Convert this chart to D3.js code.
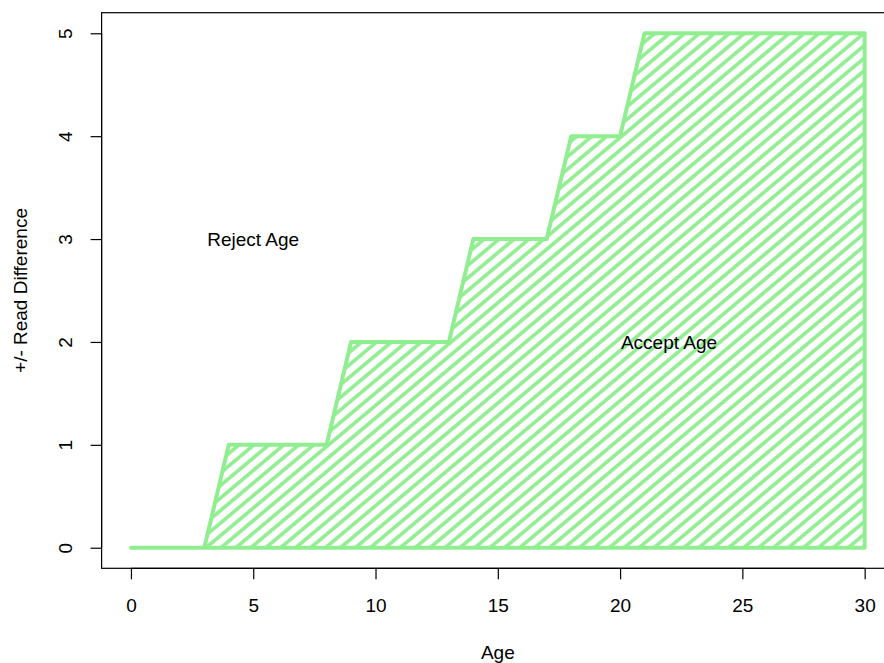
<!DOCTYPE html>
<html>
<head>
<meta charset="utf-8">
<script src="https://cdn.jsdelivr.net/npm/d3@7"></script>
<style>
  html, body { margin: 0; padding: 0; background: #fff; }
  text { font-family: "Liberation Sans", Arial, sans-serif; fill: #000; }
</style>
</head>
<body>
<svg id="chart" width="884" height="663"></svg>
<script>
// Data: acceptance boundary polygon (Age vs +/- read difference)
const ages        = [0, 3, 4, 8, 9, 13, 14, 17, 18, 20, 21, 30, 30];
const differences = [0, 0, 1, 1, 2, 2,  3,  3,  4,  4,  5,  5,  0];
const xTicks = [0, 5, 10, 15, 20, 25, 30];
const yTicks = [0, 1, 2, 3, 4, 5];
const labels = [
  { text: "Reject Age", age: 5,  diff: 3 },
  { text: "Accept Age", age: 22, diff: 2 }
];
const xTitle = "Age";
const yTitle = "+/- Read Difference";

const svg = d3.select("#chart");
const pLeft = 101.6, pRight = 894, pTop = 12.7, pBottom = 568.3;

const x = d3.scaleLinear().domain([-1.2, 31.2]).range([pLeft, pRight]);
const y = d3.scaleLinear().domain([-0.2, 5.2]).range([pBottom, pTop]);

const green = "#90EE90";

// hatch pattern
const defs = svg.append("defs");
const pat = defs.append("pattern")
  .attr("id", "hatch")
  .attr("patternUnits", "userSpaceOnUse")
  .attr("width", 9.6).attr("height", 40)
  .attr("patternTransform", "rotate(50)");
pat.append("line")
  .attr("x1", 4.8).attr("x2", 4.8).attr("y1", -5).attr("y2", 45)
  .attr("stroke", green).attr("stroke-width", 3.6);

defs.append("clipPath").attr("id", "plotclip")
  .append("rect").attr("x", pLeft).attr("y", pTop)
  .attr("width", pRight - pLeft).attr("height", pBottom - pTop);

const pts = ages.map((a, i) => [x(a), y(differences[i])]);
const line = d3.line();

const g = svg.append("g").attr("clip-path", "url(#plotclip)");
g.append("path")
  .attr("d", line(pts) + "Z")
  .attr("fill", "url(#hatch)")
  .attr("stroke", "none");
g.append("path")
  .attr("d", line(pts) + "Z")
  .attr("fill", "none")
  .attr("stroke", green)
  .attr("stroke-width", 4)
  .attr("stroke-linejoin", "round")
  .attr("stroke-linecap", "round");

// box
svg.append("rect")
  .attr("x", pLeft).attr("y", pTop)
  .attr("width", pRight - pLeft).attr("height", pBottom - pTop)
  .attr("fill", "none").attr("stroke", "#000").attr("stroke-width", 1.2);

// x axis
const xAxis = svg.append("g").attr("transform", `translate(0,${pBottom})`)
  .call(d3.axisBottom(x).tickValues(xTicks).tickSize(11).tickPadding(0).tickFormat(d3.format("d")));
xAxis.select(".domain").attr("d", `M${x(xTicks[0])},0H${x(xTicks[xTicks.length-1])}`).attr("stroke", "#000").attr("stroke-width", 1.2);
xAxis.selectAll(".tick line").attr("stroke", "#000").attr("stroke-width", 1.2);
xAxis.selectAll(".tick text")
  .attr("y", 37).attr("dy", "0.35em")
  .style("font-size", "19px").style("font-family", "Liberation Sans, Arial, sans-serif").attr("fill", "#000");

// y axis
const yAxis = svg.append("g").attr("transform", `translate(${pLeft},0)`)
  .call(d3.axisLeft(y).tickValues(yTicks).tickSize(11).tickPadding(0).tickFormat(d3.format("d")));
yAxis.select(".domain").attr("d", `M0,${y(yTicks[0])}V${y(yTicks[yTicks.length-1])}`).attr("stroke", "#000").attr("stroke-width", 1.2);
yAxis.selectAll(".tick line").attr("stroke", "#000").attr("stroke-width", 1.2);
yAxis.selectAll(".tick text")
  .attr("x", null)
  .attr("text-anchor", "middle")
  .attr("transform", "translate(-36,0) rotate(-90)")
  .attr("dy", "0.35em")
  .style("font-size", "19px").style("font-family", "Liberation Sans, Arial, sans-serif").attr("fill", "#000");

// titles
svg.append("text")
  .attr("x", (pLeft + pRight) / 2).attr("y", 652)
  .attr("text-anchor", "middle").attr("dy", "0.35em")
  .style("font-size", "19px")
  .text(xTitle);
svg.append("text")
  .attr("transform", `translate(20,${(pTop + pBottom) / 2}) rotate(-90)`)
  .attr("text-anchor", "middle").attr("dy", "0.35em")
  .style("font-size", "19px")
  .text(yTitle);

// annotations
svg.selectAll("text.ann").data(labels).join("text")
  .attr("class", "ann")
  .attr("x", d => x(d.age)).attr("y", d => y(d.diff))
  .attr("text-anchor", "middle").attr("dy", "0.35em")
  .style("font-size", "19px")
  .text(d => d.text);
</script>
</body>
</html>
